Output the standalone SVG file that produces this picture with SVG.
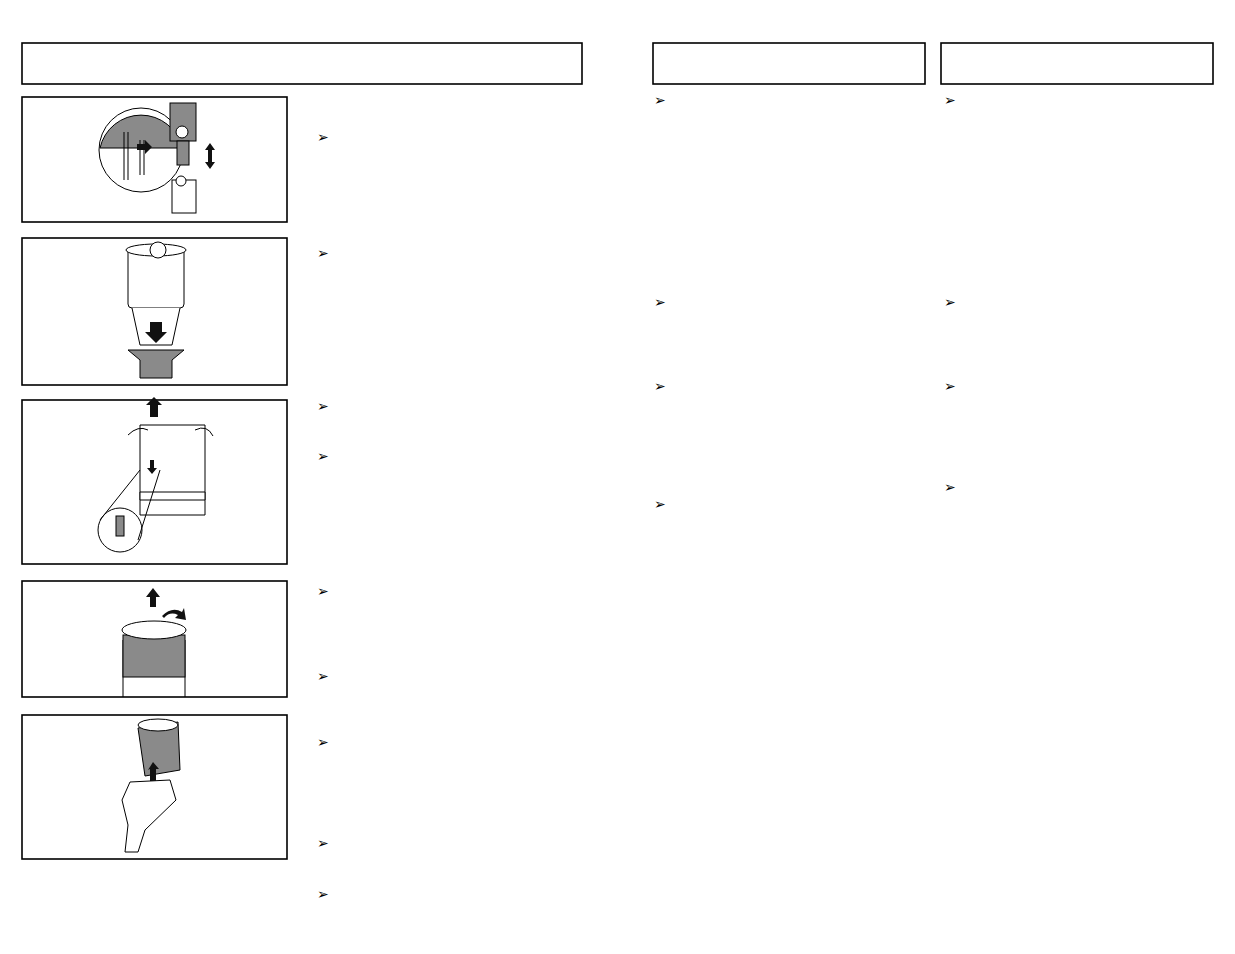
<svg xmlns="http://www.w3.org/2000/svg" width="1235" height="954" viewBox="0 0 1235 954">
<style>
.box{fill:none;stroke:#000;stroke-width:1.6}
.bul{font-family:"DejaVu Sans",sans-serif;font-size:14px;fill:#000}
.ln{fill:none;stroke:#000;stroke-width:1}
.g{fill:#8a8a8a;stroke:#000;stroke-width:1}
.lg{fill:#fff;stroke:#000;stroke-width:1}
.dk{fill:#111}
</style>
<rect width="1235" height="954" fill="#fff"/>
<g id="headers">
<rect class="box" x="22" y="43" width="560" height="41"/>
<rect class="box" x="653" y="43" width="272" height="41"/>
<rect class="box" x="941" y="43" width="272" height="41"/>
</g>
<g id="fig1">
<rect class="box" x="22" y="97" width="265" height="125"/>
<path class="g" d="M100 148 A42 42 0 0 1 182 148 Z"/>
<circle class="ln" cx="141" cy="150" r="42"/>
<path class="ln" d="M124 132 V180 M128 132 V180 M140 140 V175 M144 140 V175"/>
<path class="dk" d="M137 144 h8 v-4 l7 7 l-7 7 v-4 h-8z"/>
<rect class="g" x="170" y="103" width="26" height="38"/>
<rect class="g" x="177" y="141" width="12" height="24"/>
<circle class="lg" cx="182" cy="132" r="6"/>
<rect class="lg" x="172" y="180" width="24" height="33"/>
<circle class="lg" cx="181" cy="181" r="5"/>
<path class="dk" d="M205 150 l5 -7 l5 7 h-3 v12 h3 l-5 7 l-5 -7 h3 v-12z"/>
</g>
<g id="fig2">
<rect class="box" x="22" y="238" width="265" height="147"/>
<rect class="lg" x="128" y="248" width="56" height="60" rx="4"/>
<ellipse class="lg" cx="156" cy="250" rx="30" ry="6"/>
<circle class="lg" cx="158" cy="250" r="8"/>
<path class="lg" d="M132 308 L140 345 H172 L180 308"/>
<path class="dk" d="M150 322 h12 v10 h5 l-11 11 l-11 -11 h5z"/>
<path class="g" d="M128 350 H184 L172 360 V378 H140 V360 Z"/>
</g>
<g id="fig3">
<rect class="box" x="22" y="400" width="265" height="164"/>
<path class="lg" d="M140 425 H205 V515 H140 Z"/>
<path class="lg" d="M140 492 H205 V500 H140 Z"/>
<path class="dk" d="M146 405 l8 -8 l8 8 h-4 v12 h-8 v-12z"/>
<path class="ln" d="M128 435 q10 -10 20 -5 M195 430 q12 -6 18 6"/>
<circle class="lg" cx="120" cy="530" r="22"/>
<path class="ln" d="M100 520 L140 470 M138 540 L160 470"/>
<rect class="g" x="116" y="516" width="8" height="20"/>
<path class="dk" d="M150 460 h4 v8 h3 l-5 6 l-5 -6 h3z"/>
</g>
<g id="fig4">
<rect class="box" x="22" y="581" width="265" height="116"/>
<path class="lg" d="M123 640 V697 M185 640 V697"/>
<rect class="g" x="123" y="635" width="62" height="42"/>
<ellipse class="lg" cx="154" cy="630" rx="32" ry="9"/>
<path class="dk" d="M146 597 l7 -9 l7 9 h-4 v10 h-6 v-10z"/>
<path class="dk" d="M162 616 q10 -10 20 -4 l2 -4 l2 12 l-11 -2 l3 -3 q-8 -4 -14 3z"/>
</g>
<g id="fig5">
<rect class="box" x="22" y="715" width="265" height="144"/>
<path class="g" d="M138 728 L178 722 L180 770 L145 776 Z"/>
<ellipse class="lg" cx="158" cy="725" rx="20" ry="6"/>
<path class="dk" d="M148 770 l5 -8 l6 7 h-3 v12 h-6 v-12z"/>
<path class="lg" d="M130 782 L170 780 L176 800 L145 830 L138 852 L125 852 L128 825 L122 800 Z"/>
</g>
<g id="bullets" class="bul">
<text x="317" y="142">➢</text><text x="317" y="258">➢</text><text x="317" y="411">➢</text><text x="317" y="461">➢</text>
<text x="317" y="596">➢</text><text x="317" y="681">➢</text><text x="317" y="747">➢</text><text x="317" y="848">➢</text><text x="317" y="899">➢</text>
<text x="654" y="105">➢</text><text x="654" y="307">➢</text><text x="654" y="391">➢</text><text x="654" y="509">➢</text>
<text x="944" y="105">➢</text><text x="944" y="307">➢</text><text x="944" y="391">➢</text><text x="944" y="492">➢</text>
</g>
</svg>
